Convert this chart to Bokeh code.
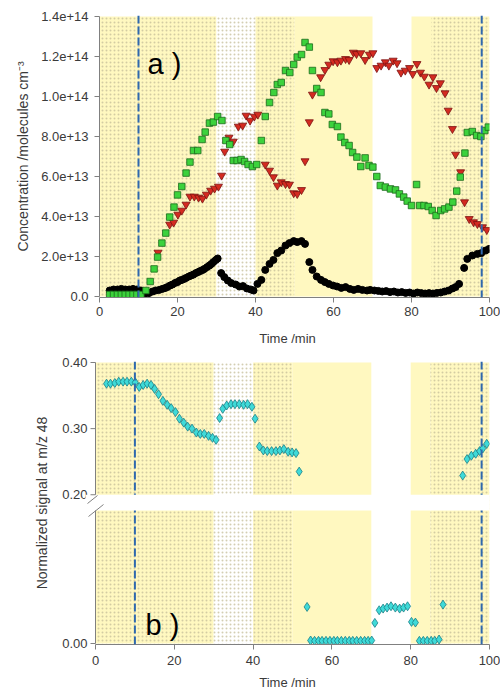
from bokeh.plotting import figure
from bokeh.models import (Range1d, FixedTicker, CustomJSTickFormatter, Span, Label,
                          ColumnDataSource)
from bokeh.layouts import column
from bokeh.embed import file_html
from bokeh.resources import INLINE

FONT = "Liberation Sans"

# ---------------- data ----------------
# shaded experimental periods (min)
band_start = [0, 30, 40, 50, 80, 85]
band_end = [30, 40, 50, 70, 85, 100]
band_color = ["#FFF8C0", "#FFFFFF", "#FFF8C0", "#FFF8C0", "#FFF8C0", "#FFF8C0"]
band_pattern = [".", ".", ".", " ", " ", "."]
event_times = [10, 98]

x_ticks = [0, 20, 40, 60, 80, 100]
conc_ticks = [0, 2e13, 4e13, 6e13, 8e13, 1.0e14, 1.2e14, 1.4e14]

# panel a: concentrations in units of 1e13 molecules cm^-3
green_t = [2.6, 3.6, 4.6, 5.6, 6.6, 7.6, 8.6, 9.6, 10.6, 11.9, 13.0, 14.0, 14.9, 16.0, 17.0,
           18.0, 19.1, 20.0, 21.1, 22.2, 23.2, 24.1, 25.2, 26.3, 27.1, 28.2, 29.2, 30.3, 31.4,
           32.4, 33.4, 34.3, 35.3, 36.3, 37.2, 38.1, 39.2, 40.3, 41.5, 42.5, 43.6, 44.7, 45.6,
           46.6, 47.7, 48.8, 49.8, 50.7, 51.8, 52.7, 53.8, 54.6, 55.7, 56.8, 57.8, 58.8, 59.7,
           61.0, 61.9, 62.9, 64.0, 64.9, 66.0, 67.0, 68.1, 69.1, 70.1, 71.1, 72.0, 73.3, 74.6,
           75.9, 76.9, 78.0, 78.9, 80.0, 81.3, 82.1, 83.2, 84.3, 85.3, 86.3, 87.5, 88.5, 89.6,
           90.6, 91.6, 92.5, 93.7, 94.3, 95.6, 96.7, 97.8, 98.8, 99.7]
green_v = [0.1, 0.1, 0.1, 0.1, 0.1, 0.1, 0.1, 0.1, 0.1, 0.3, 0.75, 1.38, 1.97, 2.67, 3.17,
           3.97, 4.47, 5.08, 5.5, 6.17, 6.72, 7.3, 7.3, 7.85, 8.22, 8.67, 8.72, 9.0, 8.8,
           7.8, 7.6, 6.8, 6.8, 6.85, 6.75, 6.6, 6.5, 6.6, 7.8, 9.0, 9.7, 10.2, 10.6,
           10.7, 11.3, 11.2, 11.6, 11.97, 12.1, 12.7, 12.47, 11.3, 10.4, 10.2, 9.2, 9.13, 8.6,
           8.5, 7.97, 7.7, 7.55, 7.2, 6.97, 6.5, 6.93, 6.55, 6.47, 6.0, 5.55, 5.47, 5.38,
           5.33, 5.13, 4.97, 4.77, 4.55, 5.6, 4.55, 4.55, 4.5, 4.3, 4.05, 4.3, 4.38, 4.47,
           4.72, 5.27, 5.97, 7.17, 8.2, 8.25, 8.05, 8.0, 8.3, 8.47]

red_t = [15.0, 18.0, 19.0, 20.1, 21.1, 22.2, 23.2, 24.3, 25.4, 26.4, 27.4, 28.5, 29.5, 30.5,
         31.3, 32.1, 33.2, 34.3, 35.6, 36.7, 37.6, 38.6, 39.7, 40.6, 42.5, 43.6, 44.6, 45.6,
         46.6, 47.7, 48.7, 49.8, 50.7, 51.8, 52.7, 53.8, 54.6, 56.7, 57.8, 58.8, 59.9, 61.0,
         61.9, 63.1, 64.0, 65.1, 65.9, 67.0, 68.1, 69.2, 70.1, 71.1, 72.2, 73.3, 74.2, 75.3,
         76.3, 77.3, 78.4, 79.5, 80.3, 81.4, 82.3, 83.3, 84.5, 85.5, 86.4, 87.4, 88.6, 89.4,
         90.5, 91.3, 92.6, 93.6, 94.8, 95.9, 96.9, 98.2, 99.3]
red_v = [2.2, 3.6, 3.7, 4.1, 4.3, 4.6, 5.0, 5.0, 4.95, 4.9, 5.1, 5.3, 5.4, 5.5,
         6.05, 7.25, 7.95, 7.75, 8.5, 8.55, 9.05, 8.8, 9.0, 9.1, 6.6, 6.3, 5.97, 5.55,
         5.72, 5.63, 5.6, 5.17, 5.13, 5.33, 6.77, 8.72, 10.1, 10.97, 11.33, 11.6, 11.77, 11.72,
         11.8, 11.88, 11.83, 12.2, 12.13, 12.17, 11.83, 12.1, 12.17, 11.43, 11.55, 11.72, 11.55, 11.8,
         11.67, 11.2, 11.3, 11.43, 11.13, 11.63, 11.2, 11.0, 10.6, 10.97, 10.43, 10.67, 10.17, 9.3,
         8.38, 7.1, 6.22, 4.72, 3.88, 3.72, 3.63, 3.47, 3.33]

black_t = [2.6, 3.6, 4.6, 5.6, 6.6, 7.6, 8.6, 9.6, 10.6, 11.7, 12.7, 13.6, 14.4, 15.3, 16.1,
           16.8, 17.4, 18.1, 18.7, 19.4, 20.0, 20.6, 21.1, 21.7, 22.2, 22.9, 23.5, 24.1, 24.7,
           25.3, 25.8, 26.4, 26.9, 27.6, 28.2, 28.7, 29.2, 29.8, 30.3, 31.2, 32.0, 32.9, 33.8,
           34.9, 35.9, 36.8, 37.8, 38.8, 39.5, 40.5, 41.5, 42.5, 43.6, 44.6, 45.6, 46.6, 47.7,
           48.7, 49.8, 50.7, 51.8, 52.7, 53.8, 54.6, 55.7, 56.8, 57.8, 58.8, 59.9, 60.9, 62.0,
           63.1, 64.2, 65.2, 66.3, 67.4, 68.6, 69.4, 70.5, 71.5, 72.5, 73.5, 74.5, 75.5, 76.5,
           77.5, 78.5, 79.5, 80.5, 81.5, 82.5, 83.5, 84.5, 85.5, 86.5, 87.5, 88.5, 89.5, 90.5,
           91.3, 92.2, 93.5, 94.3, 95.6, 96.9, 97.9, 99.0, 99.9]
black_v = [0.3, 0.35, 0.35, 0.38, 0.35, 0.35, 0.38, 0.35, 0.3, 0.15, 0.17, 0.25, 0.3, 0.33, 0.38,
           0.42, 0.47, 0.55, 0.6, 0.68, 0.72, 0.8, 0.83, 0.88, 0.93, 1.0, 1.05, 1.1, 1.17,
           1.22, 1.27, 1.32, 1.38, 1.47, 1.55, 1.63, 1.72, 1.82, 1.9, 1.17, 0.97, 0.8, 0.67,
           0.6, 0.5, 0.52, 0.4, 0.35, 0.3, 0.63, 0.83, 1.33, 1.63, 1.83, 2.17, 2.3, 2.55,
           2.67, 2.77, 2.72, 2.77, 2.63, 1.72, 1.33, 1.0, 0.83, 0.72, 0.63, 0.55, 0.5, 0.43,
           0.47, 0.38, 0.33, 0.38, 0.33, 0.3, 0.33, 0.3, 0.28, 0.25, 0.27, 0.22, 0.25, 0.2,
           0.22, 0.18, 0.2, 0.15, 0.2, 0.17, 0.15, 0.17, 0.15, 0.18, 0.2, 0.25, 0.3, 0.4,
           0.47, 0.63, 1.43, 1.88, 2.05, 2.13, 2.17, 2.3, 2.38]

# panel b: normalized signal at m/z 48
sig_ticks = [0.2, 0.3, 0.4]
cyan_hi_t = [2.8, 3.8, 4.9, 5.9, 7.0, 8.0, 9.1, 10.1, 11.1, 12.1, 13.1, 14.1, 15.0, 16.0, 17.1,
             18.2, 19.2, 20.3, 21.3, 22.4, 23.4, 24.5, 25.6, 26.6, 27.6, 28.7, 29.7, 30.6, 31.5,
             32.3, 33.3, 34.4, 35.4, 36.5, 37.6, 38.6, 39.7, 40.5, 41.6, 42.6, 43.6, 44.7, 45.8,
             46.8, 47.8, 48.9, 49.9, 50.9, 51.7, 93.2, 94.3, 95.4, 96.5, 97.5, 98.3, 99.3]
cyan_hi_v = [0.368, 0.368, 0.369, 0.371, 0.371, 0.371, 0.371, 0.37, 0.363, 0.366, 0.368, 0.366,
             0.36, 0.352, 0.342, 0.336, 0.331, 0.325, 0.315, 0.309, 0.303, 0.3, 0.294, 0.292,
             0.292, 0.289, 0.286, 0.283, 0.316, 0.33, 0.335, 0.337, 0.337, 0.337, 0.336, 0.337,
             0.333, 0.315, 0.273, 0.267, 0.266, 0.266, 0.266, 0.267, 0.269, 0.265, 0.264, 0.263,
             0.235, 0.229, 0.254, 0.259, 0.262, 0.266, 0.27, 0.277]
cyan_lo_t = [53.7, 54.6, 55.6, 56.6, 57.5, 58.5, 59.5, 60.5, 61.4, 62.4, 63.4, 64.4, 65.3, 66.3,
             67.3, 68.3, 69.2, 70.1, 70.9, 72.0, 73.0, 74.0, 75.0, 76.1, 77.2, 78.2, 79.2, 80.2,
             81.2, 82.2, 83.2, 84.2, 85.2, 86.1, 87.2, 88.2]
cyan_lo_v = [0.011, 0.0009, 0.0008, 0.0008, 0.0008, 0.0008, 0.0008, 0.0008, 0.0008, 0.0008,
             0.0008, 0.0008, 0.0008, 0.0008, 0.0008, 0.0008, 0.0008, 0.0009, 0.0062, 0.010,
             0.0105, 0.0108, 0.0112, 0.0108, 0.0105, 0.0108, 0.0112, 0.0065, 0.0063, 0.0008,
             0.0008, 0.0008, 0.0008, 0.0008, 0.0012, 0.0117]

# ---------------- layout / style constants ----------------
YEL_DOT = "#C4BD98"
AXIS_C = "#808080"
TEXT_C = "#3a3a3a"
BLUE = "#2F68AE"
BORDER_L, FRAME_W, BORDER_R = 85, 404, 11
TICK_PX = 5

bands = ColumnDataSource(dict(left=band_start, right=band_end, color=band_color,
                              pattern=band_pattern))


def style(p):
    p.xgrid.visible = False
    p.ygrid.visible = False
    p.outline_line_color = None
    for ax in p.axis:
        ax.axis_line_color = AXIS_C
        ax.major_tick_line_color = AXIS_C
        ax.minor_tick_line_color = None
        ax.major_tick_in = 0
        ax.major_tick_out = 5
        ax.major_label_text_font = FONT
        ax.major_label_text_font_size = "13px"
        ax.major_label_text_color = TEXT_C
        ax.axis_label_text_font = FONT
        ax.axis_label_text_font_style = "normal"
        ax.axis_label_text_color = TEXT_C
    p.xaxis.bounds = (0, 100)
    # the y axis is drawn at t = 0, inside the frame (see manual_y_axis)
    p.yaxis.axis_line_color = None
    p.yaxis.major_tick_line_color = None
    p.yaxis.major_tick_out = 0


def add_bands(p, y0, y1):
    p.quad(left="left", right="right", bottom=y0, top=y1, source=bands,
           fill_color="color", line_color=None, hatch_pattern="pattern",
           hatch_color=YEL_DOT, hatch_scale=4, hatch_weight=0.5, hatch_alpha=0.75)
    for t in event_times:
        p.add_layout(Span(location=t, dimension="height", line_color=BLUE,
                          line_width=2, line_dash="8 3"))


def manual_y_axis(p, pieces, ticks, unit_px):
    tick_len = TICK_PX / unit_px
    p.segment(x0=[0] * len(pieces), y0=[a for a, b in pieces],
              x1=[0] * len(pieces), y1=[b for a, b in pieces],
              line_color=AXIS_C, line_width=1, level="overlay")
    p.segment(x0=[0] * len(ticks), y0=ticks, x1=[-tick_len] * len(ticks), y1=ticks,
              line_color=AXIS_C, line_width=1, level="overlay")


# ---------------- panel a ----------------
A_UNIT = 3.9                        # px per minute
A_X0 = -14 / A_UNIT                 # frame starts 14 px left of t = 0
A_PAD = 1.4e14 / 280                # one pixel in concentration units
top = figure(frame_width=FRAME_W, frame_height=282, min_border_left=BORDER_L,
             min_border_right=BORDER_R, min_border_top=15, min_border_bottom=53,
             x_range=Range1d(A_X0, 100), y_range=Range1d(-A_PAD, 1.4e14 + A_PAD),
             output_backend="svg", toolbar_location=None)
add_bands(top, 0, 1.4e14)
E13 = 1e13
top.scatter(black_t, [v * E13 for v in black_v], marker="circle", size=7,
            fill_color="black", line_color="black")
top.scatter(red_t, [v * E13 for v in red_v], marker="inverted_triangle", size=8,
            fill_color="#D42A20", line_color="#7A1010", line_width=0.8)
top.scatter(green_t, [v * E13 for v in green_v], marker="square", size=6.5,
            fill_color="#3CD23C", line_color="#1C6A1C", line_width=0.8)
manual_y_axis(top, [(0, 1.4e14)], conc_ticks, A_UNIT)
top.add_layout(Label(x=12.3, y=11.65 * E13, text="a )", text_font=FONT,
                     text_font_size="29px", text_color="black",
                     text_baseline="alphabetic"))
top.xaxis.ticker = FixedTicker(ticks=x_ticks)
top.yaxis.ticker = FixedTicker(ticks=conc_ticks)
top.yaxis.formatter = CustomJSTickFormatter(
    code="return tick == 0 ? '0.0' : tick.toExponential(1);")
top.xaxis.axis_label = "Time /min"
top.yaxis.axis_label = "Concentration /molecules cm\u207b\u00b3"
style(top)
top.xaxis.major_label_standoff = 4
top.xaxis.axis_label_standoff = 12
top.xaxis.axis_label_text_font_size = "13px"
top.yaxis.major_label_standoff = -3
top.yaxis.axis_label_standoff = 7
top.yaxis.axis_label_text_font_size = "14px"

# ---------------- panel b (broken y axis) ----------------
B_UNIT = 3.94
B_X0 = -10 / B_UNIT
Y0, Y1 = -0.025, 0.4           # upper-segment scale; Y0 sits on the x axis ("0.00")
B_PX = (Y1 - Y0) / 281         # one pixel in upper units
LOW_PX = 0.04 / 133            # one pixel in lower-segment units (0 .. 0.04 over 133 px)
GAP_LOW = Y1 - (510 - 362) * B_PX   # upper-units value where the lower segment ends
LOW_END = (643 - 361) * LOW_PX

bot = figure(frame_width=FRAME_W, frame_height=283, min_border_left=BORDER_L,
             min_border_right=BORDER_R, min_border_top=11, min_border_bottom=47,
             x_range=Range1d(B_X0, 100), y_range=Range1d(Y0 - B_PX, Y1 + B_PX),
             output_backend="svg", toolbar_location=None)
bot.extra_y_ranges = {"low": Range1d(-LOW_PX, LOW_END)}
add_bands(bot, Y0, Y1)
bot.scatter(cyan_hi_t, cyan_hi_v, marker="diamond", size=9,
            fill_color="#3FDAD8", line_color="#1A7F86", line_width=0.8)
bot.scatter(cyan_lo_t, cyan_lo_v, marker="diamond", size=9, y_range_name="low",
            fill_color="#3FDAD8", line_color="#1A7F86", line_width=0.8)
# white gap of the broken axis
bot.quad(left=B_X0, right=100, bottom=GAP_LOW, top=0.2, fill_color="white",
         line_color=None, level="overlay")
manual_y_axis(bot, [(Y0, GAP_LOW), (0.2, Y1)], [Y0] + sig_ticks, B_UNIT)
# break marks
bot.segment(x0=[-8 / B_UNIT, -7 / B_UNIT], y0=[Y1 - 141 * B_PX, Y1 - 154 * B_PX],
            x1=[2 / B_UNIT, 8 / B_UNIT], y1=[Y1 - 133 * B_PX, Y1 - 142 * B_PX],
            line_color=AXIS_C, line_width=1, level="overlay")
bot.add_layout(Label(x=12.7, y=0.0055, y_range_name="low", text="b )", text_font=FONT,
                     text_font_size="29px", text_color="black",
                     text_baseline="alphabetic"))
bot.xaxis.ticker = FixedTicker(ticks=x_ticks)
bot.yaxis.ticker = FixedTicker(ticks=[Y0] + sig_ticks)
bot.yaxis.formatter = CustomJSTickFormatter(
    code="return tick < 0 ? '0.00' : tick.toFixed(2);")
bot.xaxis.axis_label = "Time /min"
bot.yaxis.axis_label = "Normalized signal at m/z 48"
style(bot)
bot.xaxis.major_label_standoff = 6
bot.xaxis.axis_label_standoff = 7
bot.xaxis.axis_label_text_font_size = "13px"
bot.yaxis.major_label_standoff = -2
bot.yaxis.axis_label_standoff = 9
bot.yaxis.axis_label_text_font_size = "14px"

layout = column(top, bot)
open("out.html", "w").write(file_html(layout, INLINE))
